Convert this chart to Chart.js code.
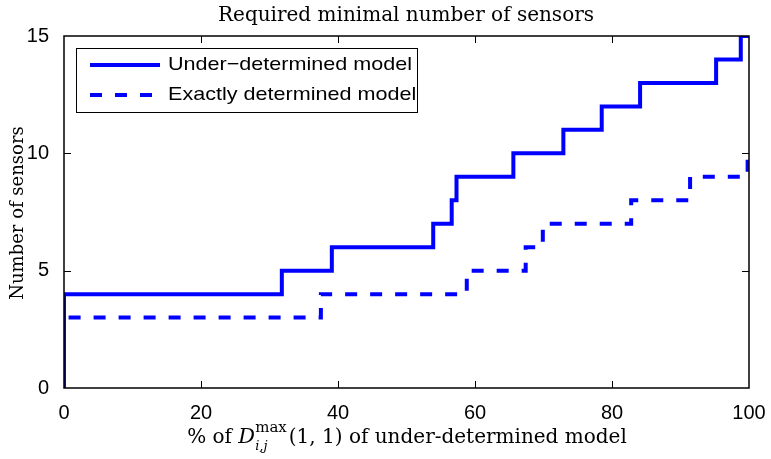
<!DOCTYPE html>
<html>
<head>
<meta charset="utf-8">
<script src="https://cdn.jsdelivr.net/npm/chart.js@4.4.1/dist/chart.umd.min.js"></script>
<style>
  html, body { margin: 0; padding: 0; background: #fff; }
  #wrap { width: 771px; height: 459px; }
</style>
</head>
<body>
<div id="wrap"><canvas id="sensorChart" width="771" height="459"></canvas></div>
<script>
// Step points: x where the count changes, and the new count
const underX = [0, 0, 31.8, 39.1, 53.9, 56.6, 57.3, 65.6, 72.9, 78.5, 84.1, 95.2, 98.8, 100];
const underY = [0, 4, 5, 6, 7, 8, 9, 10, 11, 12, 13, 14, 15, 15];
const exactX = [0, 0, 37.5, 58.8, 67.4, 69.9, 82.8, 91.4, 99.8, 100];
const exactY = [0, 3, 4, 5, 6, 7, 8, 9, 10, 10];
const xTicks = [0, 20, 40, 60, 80, 100];
const yTicks = [0, 5, 10, 15];
const seriesNames = ['Under\u2212determined model', 'Exactly determined model'];

const blue = '#0000ff';
const sans = '"Liberation Sans", Arial, sans-serif';
const serif = '"DejaVu Serif", "Liberation Serif", serif';

function toPoints(xs, ys) {
    return xs.map((x, i) => ({ x: x, y: ys[i] }));
}

// Draws the box, inward ticks, legend and the serif titles
const decorations = {
    id: 'decorations',
    afterDraw(chart) {
        const ctx = chart.ctx;
        const a = chart.chartArea;
        const xs = chart.scales.x;
        const ys = chart.scales.y;
        ctx.save();

        // axes box
        ctx.strokeStyle = '#000';
        ctx.lineWidth = 1.5;
        ctx.strokeRect(a.left, a.top, a.right - a.left, a.bottom - a.top);

        // inward ticks
        ctx.lineWidth = 1;
        const tl = 7;
        xTicks.slice(1, -1).forEach(v => {
            const px = Math.round(xs.getPixelForValue(v)) + 0.5;
            ctx.beginPath();
            ctx.moveTo(px, a.bottom); ctx.lineTo(px, a.bottom - tl);
            ctx.moveTo(px, a.top); ctx.lineTo(px, a.top + tl);
            ctx.stroke();
        });
        yTicks.slice(1, -1).forEach(v => {
            const py = Math.round(ys.getPixelForValue(v)) + 0.5;
            ctx.beginPath();
            ctx.moveTo(a.left, py); ctx.lineTo(a.left + tl, py);
            ctx.moveTo(a.right, py); ctx.lineTo(a.right - tl, py);
            ctx.stroke();
        });

        // legend
        const lx = 76, ly = 48, lw = 341, lh = 64;
        ctx.fillStyle = '#fff';
        ctx.fillRect(lx, ly, lw, lh);
        ctx.strokeStyle = '#000';
        ctx.lineWidth = 1;
        ctx.strokeRect(lx + 0.5, ly + 0.5, lw, lh);
        ctx.save();
        ctx.beginPath();
        ctx.rect(lx + 1, ly + 1, lw - 1, lh - 1);
        ctx.clip();
        ctx.strokeStyle = blue;
        ctx.lineWidth = 4;
        ctx.lineCap = 'butt';
        ctx.beginPath();
        ctx.moveTo(90, 65); ctx.lineTo(160, 65);
        ctx.stroke();
        ctx.setLineDash([12, 13]);
        ctx.beginPath();
        ctx.moveTo(90, 95); ctx.lineTo(160, 95);
        ctx.stroke();
        ctx.setLineDash([]);
        ctx.fillStyle = '#000';
        ctx.font = '19px ' + sans;
        ctx.textBaseline = 'middle';
        ctx.textAlign = 'left';
        const stretch = 244 / ctx.measureText(seriesNames[0]).width;
        [65, 95].forEach((yy, i) => {
            ctx.save();
            ctx.translate(168, yy);
            ctx.scale(stretch, 1);
            ctx.fillText(seriesNames[i], 0, 0);
            ctx.restore();
        });
        ctx.restore();

        // title
        ctx.fillStyle = '#000';
        ctx.textAlign = 'center';
        ctx.textBaseline = 'alphabetic';
        ctx.font = '20px ' + serif;
        ctx.fillText('Required minimal number of sensors', 406, 21);

        // y title
        ctx.save();
        ctx.translate(23, 213);
        ctx.rotate(-Math.PI / 2);
        ctx.font = '18px ' + serif;
        ctx.fillText('Number of sensors', 0, 0);
        ctx.restore();

        // x title with math part
        const base = 443;
        const parts = [
            { t: '% of ', f: '20px ' + serif, dy: 0 },
            { t: 'D', f: 'italic 21px ' + serif, dy: 0 },
            { t: 'max', f: '15px ' + serif, dy: -11, sup: true },
            { t: '(1, 1) of under-determined model', f: '20px ' + serif, dy: 0 }
        ];
        const sub = { t: 'i,j', f: 'italic 13px ' + serif, dy: 7 };
        let total = 0;
        parts.forEach(p => { ctx.font = p.f; p.w = ctx.measureText(p.t).width + (p.sup ? 2 : 0); total += p.w; });
        let x = 407 - total / 2;
        ctx.textAlign = 'left';
        parts.forEach(p => {
            ctx.font = p.f;
            ctx.fillText(p.t, x, base + p.dy);
            if (p.sup) {
                ctx.font = sub.f;
                ctx.fillText(sub.t, x, base + sub.dy);
            }
            x += p.w;
        });

        ctx.restore();
    }
};

const ctx = document.getElementById('sensorChart').getContext('2d');

new Chart(ctx, {
    type: 'line',
    data: {
        datasets: [{
            label: seriesNames[0],
            data: toPoints(underX, underY),
            borderColor: blue,
            borderWidth: 4,
            stepped: 'before',
            pointRadius: 0,
            fill: false
        }, {
            label: seriesNames[1],
            data: toPoints(exactX, exactY),
            borderColor: blue,
            borderWidth: 4,
            borderDash: [12, 13],
            stepped: 'before',
            pointRadius: 0,
            fill: false
        }]
    },
    options: {
        responsive: false,
        animation: false,
        layout: { padding: { left: 0, top: 36, right: 22, bottom: 0 } },
        plugins: {
            legend: { display: false },
            title: { display: false },
            tooltip: { enabled: false }
        },
        scales: {
            x: {
                type: 'linear',
                min: 0,
                max: 100,
                afterBuildTicks: s => { s.ticks = xTicks.map(v => ({ value: v })); },
                afterFit: s => { s.height = 71; },
                grid: { display: false },
                border: { display: false },
                ticks: { color: '#000', font: { family: sans, size: 20 }, padding: 5, maxRotation: 0 }
            },
            y: {
                min: 0,
                max: 15,
                afterBuildTicks: s => { s.ticks = yTicks.map(v => ({ value: v })); },
                afterFit: s => { s.width = 64; },
                grid: { display: false },
                border: { display: false },
                ticks: { color: '#000', font: { family: sans, size: 20 }, padding: 7 }
            }
        }
    },
    plugins: [decorations]
});
</script>
</body>
</html>
